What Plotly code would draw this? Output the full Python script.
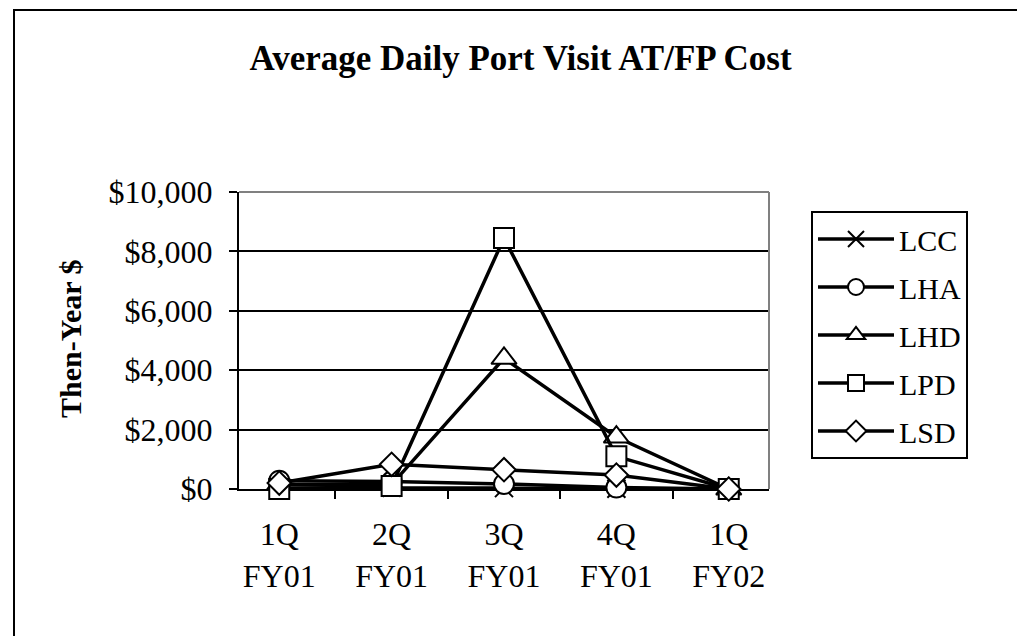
import plotly.graph_objects as go

quarters = ["1Q<br>FY01", "2Q<br>FY01", "3Q<br>FY01", "4Q<br>FY01", "1Q<br>FY02"]

lcc = [30, 40, 30, 10, 0]
lha = [280, 250, 170, 50, 0]
lhd = [150, 150, 4400, 1750, 0]
lpd = [0, 100, 8450, 1100, 0]
lsd = [200, 830, 650, 470, 0]

# name, values, symbol, size, fill
series = [
    ("LCC", lcc, "x-thin", 18, "black"),
    ("LHA", lha, "circle", 20, "white"),
    ("LHD", lhd, "triangle-up", 22, "white"),
    ("LPD", lpd, "square", 20, "white"),
    ("LSD", lsd, "diamond", 18, "white"),
]

FONT = "Liberation Serif, Times New Roman, serif"

fig = go.Figure()
for name, vals, sym, size, fill in series:
    fig.add_trace(go.Scatter(
        x=quarters,
        y=vals,
        name=name,
        legendgroup=name,
        mode="lines+markers",
        line=dict(color="black", width=3.5),
        marker=dict(symbol=sym, size=size, color=fill,
                    line=dict(color="black", width=2)),
        cliponaxis=False,
    ))

fig.update_layout(
    width=1025,
    height=636,
    margin=dict(l=231, r=264, t=184, b=155),
    paper_bgcolor="white",
    plot_bgcolor="white",
    font=dict(family=FONT, color="black", size=32),
    title=dict(
        text="<b>Average Daily Port Visit AT/FP Cost</b>",
        font=dict(family=FONT, size=35, color="black"),
        x=0.5, xref="container", xanchor="center",
        y=1 - 50 / 636, yref="container", yanchor="middle",
    ),
    showlegend=True,
    legend=dict(
        x=(803 - 231) / 530, xanchor="left",
        y=(481 - 203) / 297, yanchor="top",
        bgcolor="white",
        bordercolor="black",
        borderwidth=2,
        font=dict(family=FONT, size=30, color="black"),
        itemwidth=76,
        tracegroupgap=6,
        traceorder="grouped",
    ),
)

fig.update_xaxes(
    type="category",
    tickson="boundaries",
    ticks="outside",
    ticklen=8,
    tickwidth=2,
    tickcolor="black",
    showline=True,
    linecolor="black",
    linewidth=2,
    showgrid=False,
    layer="below traces",
    ticklabelstandoff=16,
    tickfont=dict(family=FONT, size=32, color="black"),
)

fig.update_yaxes(
    range=[0, 10000],
    dtick=2000,
    tickprefix="$",
    tickformat=",d",
    ticks="outside",
    ticklen=8,
    tickwidth=2,
    tickcolor="black",
    showline=True,
    linecolor="black",
    linewidth=2,
    showgrid=True,
    gridcolor="black",
    gridwidth=1.5,
    zeroline=False,
    layer="below traces",
    ticklabelstandoff=10,
    tickfont=dict(family=FONT, size=32, color="black"),
)

# y axis title
fig.add_annotation(
    text="<b>Then-Year $</b>",
    textangle=-90,
    xref="paper", yref="paper",
    x=(62 - 231) / 530, y=0.505,
    xanchor="center", yanchor="middle",
    showarrow=False,
    font=dict(family=FONT, size=30, color="black"),
)

# gray plot-area border (top and right)
fig.add_shape(type="line", xref="paper", yref="paper", x0=0, x1=1, y0=1, y1=1,
              line=dict(color="#808080", width=2), layer="above")
fig.add_shape(type="line", xref="paper", yref="paper", x0=1, x1=1, y0=0, y1=1,
              line=dict(color="#808080", width=2), layer="above")

# chart-area frame
fig.add_shape(type="rect", xref="paper", yref="paper",
              x0=(6 - 231) / 530, x1=(1020 - 231) / 530,
              y0=(481 - 640) / 297, y1=(481 - 2) / 297,
              line=dict(color="black", width=2), layer="below")

fig.write_html("out.html")
